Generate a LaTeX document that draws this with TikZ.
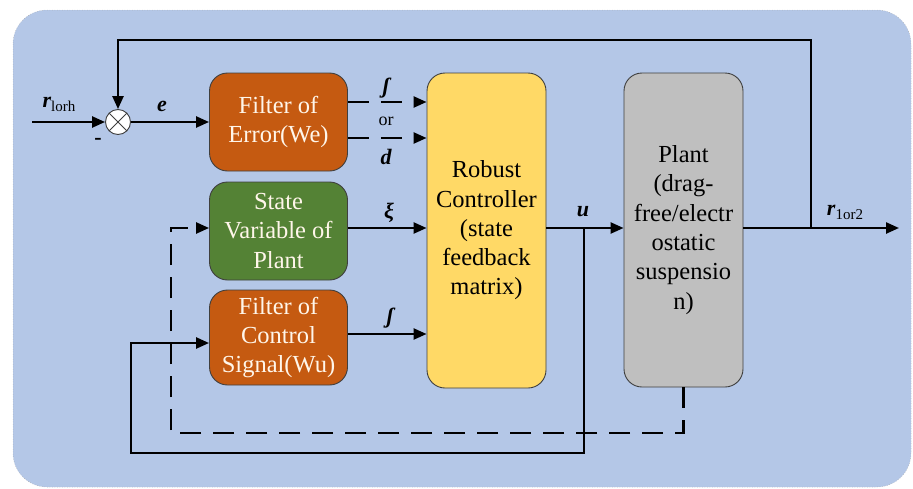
\documentclass[tikz,border=0pt]{standalone}
\usepackage{fontspec}
\setmainfont{Liberation Serif}
\usetikzlibrary{arrows.meta,calc}
\definecolor{bgblue}{HTML}{B4C7E7}
\definecolor{orangebox}{HTML}{C55A11}
\definecolor{greenbox}{HTML}{548235}
\definecolor{yellowbox}{HTML}{FFD966}
\definecolor{graybox}{HTML}{BFBFBF}
\definecolor{boxline}{HTML}{3F3F3F}
\definecolor{lighttext}{HTML}{FFF6EA}
\begin{document}
\begin{tikzpicture}[x=1pt,y=-1pt,
  blk/.style={draw=boxline, line width=0.9pt, rounded corners=18pt, align=center,
    inner sep=0pt, font=\fontsize{24.5}{29.3}\selectfont},
  smallblk/.style={blk, minimum width=138pt, text=lighttext},
  tallblk/.style={blk, minimum width=119pt, minimum height=314pt, text=black},
  wire/.style={line width=2.4pt},
  arr/.style={wire, -{Triangle[length=13pt,width=11pt]}},
  dashline/.style={dash pattern=on 21pt off 12pt},
  lbl/.style={font=\fontsize{22}{24}\selectfont\bfseries\itshape, inner sep=0pt},
  sumnode/.style={circle, draw=boxline, fill=white, line width=0.9pt, minimum size=25pt, inner sep=0pt,
    path picture={\draw[line width=0.8pt, boxline] (path picture bounding box.north west)--(path picture bounding box.south east)
      (path picture bounding box.south west)--(path picture bounding box.north east);}}
]
\useasboundingbox (0,0) rectangle (913,488);
% background
\draw[fill=bgblue, draw=gray!70, line width=0.5pt, dotted, rounded corners=34pt] (13,10) rectangle (911,487);

% blocks
\node[smallblk, fill=orangebox, minimum height=98pt] (we) at (278.5,122) {Filter of\\Error(We)};
\node[smallblk, fill=greenbox, minimum height=98pt] (sv) at (278.5,231) {State\\Variable of\\Plant};
\node[smallblk, fill=orangebox, minimum height=95pt] (wu) at (278.5,337.5) {Filter of\\Control\\Signal(Wu)};
\node[tallblk, fill=yellowbox, minimum height=315pt] (ctrl) at (486.5,230.5) {Robust\\Controller\\(state\\feedback\\matrix)};
\node[tallblk, fill=graybox] (plant) at (683.5,230) {Plant\\(drag-\\free/electr\\ostatic\\suspensio\\n)};
\node[sumnode] (sum) at (118,122) {};

% coordinates
\coordinate (in) at (32,122);
\coordinate (uj) at (584,228);
\coordinate (yj) at (811,228);
\coordinate (out) at (899,228);
\coordinate (topy) at (0,40);
\coordinate (fb) at (131,453);
\coordinate (db) at (171,433);

% connectors
\draw[arr] (in) -- (sum.west);
\draw[arr] (sum.east) -- (we.west);
\draw[arr] (yj) |- (topy -| sum.north) -- (sum.north);
\draw[arr, dashline] ([yshift=20pt]we.east) -- ([yshift=20pt]we.east -| ctrl.west);
\draw[arr, dashline] ([yshift=-16pt]we.east) -- ([yshift=-16pt]we.east -| ctrl.west);
\draw[arr] ([yshift=3pt]sv.east) -- ([yshift=3pt]sv.east -| ctrl.west);
\draw[arr] ([yshift=3.5pt]wu.east) -- ([yshift=3.5pt]wu.east -| ctrl.west);
\draw[arr] (ctrl.east |- uj) -- (plant.west |- uj);
\draw[arr] (plant.east |- uj) -- (out);
\draw[arr] (uj) |- (fb) |- ([yshift=-5.5pt]wu.west);
\draw[arr, dashline] (plant.south) |- (db) |- ([yshift=3pt]sv.west);

% labels
\node[inner sep=0pt] (rin) at (59,104) {{\fontsize{22}{24}\selectfont\bfseries\itshape r}\raisebox{-4pt}{\fontsize{15}{15}\selectfont lorh}};
\node[inner sep=0pt, font=\fontsize{22}{22}\selectfont\bfseries] (minus) at (98,141) {-};
\node[lbl] (le) at (162,106) {e};
\node[lbl] (lf1) at (386,88) {ʃ};
\node[inner sep=0pt, font=\fontsize{18}{18}\selectfont] (lor) at (386,121) {or};
\node[lbl] (ld) at (386,157) {d};
\node[lbl] (lxi) at (389,213) {ξ};
\node[lbl] (lf2) at (390,318) {ʃ};
\node[lbl] (lu) at (583,212) {u};
\node[inner sep=0pt] (rout) at (845,212) {{\fontsize{22}{24}\selectfont\bfseries\itshape r}\raisebox{-4pt}{\fontsize{15}{15}\selectfont 1or2}};
\end{tikzpicture}
\end{document}
